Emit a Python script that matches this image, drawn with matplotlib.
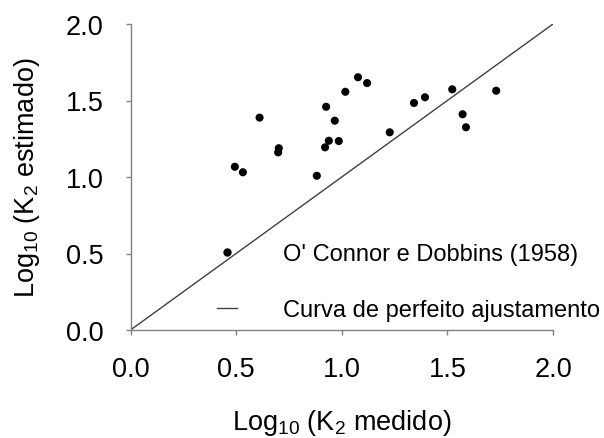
import matplotlib
matplotlib.use("Agg")
import matplotlib.pyplot as plt
from matplotlib.lines import Line2D

plt.rcParams["font.family"] = ["Liberation Sans", "DejaVu Sans"]
plt.rcParams["mathtext.default"] = "regular"

# log10 of measured vs. estimated reaeration coefficient K2
k2_medido = [0.494, 0.532, 0.611, 0.702, 0.699, 0.882, 0.926, 0.967, 0.939, 0.921,
             0.986, 1.017, 1.077, 1.120, 1.227, 1.342, 1.394, 1.523, 1.572, 1.588, 1.731]
k2_estimado = [1.067, 1.031, 1.388, 1.188, 1.161, 1.008, 1.459, 1.368, 1.237, 1.194,
               1.235, 1.557, 1.652, 1.614, 1.292, 1.484, 1.521, 1.573, 1.410, 1.325, 1.564]

ticks = [0.0, 0.5, 1.0, 1.5, 2.0]
tick_labels = ["0.0", "0.5", "1.0", "1.5", "2.0"]
ideal = [0.0, 2.0]

fig = plt.figure(figsize=(6.04, 4.39), dpi=100)
ax = fig.add_axes([130.5 / 604, 1 - 331 / 439, (553 - 130.5) / 604, (331 - 25) / 439])

ax.plot(ideal, ideal, color="#404040", lw=1.0, zorder=2)
ax.scatter(k2_medido, k2_estimado, s=34, color="black", edgecolors="none", zorder=3)

ax.set_xlim(0, 2)
ax.set_ylim(0, 2)
ax.set_xticks(ticks)
ax.set_xticklabels(tick_labels)
ax.set_yticks(ticks)
ax.set_yticklabels(tick_labels)

for side in ("top", "right"):
    ax.spines[side].set_visible(False)
for side in ("left", "bottom"):
    ax.spines[side].set_color("#808080")
    ax.spines[side].set_linewidth(1.0)
    ax.spines[side].set_clip_on(False)

ax.tick_params(axis="both", direction="out", length=3.5, width=1.0, color="#808080",
               labelsize=19.5, labelcolor="black")
ax.tick_params(axis="x", pad=15)
ax.tick_params(axis="y", pad=16)

ax.set_xlabel("Log$_{10}$ (K$_2$ medido)", fontsize=19.5, labelpad=18)
ax.set_ylabel("Log$_{10}$ (K$_2$ estimado)", fontsize=19.5, labelpad=17)

handles = [
    Line2D([], [], marker="o", linestyle="none", color="black", markersize=5),
    Line2D([], [], color="#404040", lw=1.0),
]
labels = ["O' Connor e Dobbins (1958)", "Curva de perfeito ajustamento"]
ax.legend(handles, labels, loc="upper left", bbox_to_anchor=((217 - 130.5) / 422.5, (331 - 244) / 306),
          frameon=False, fontsize=17, borderpad=0, borderaxespad=0, handlelength=0.85,
          handletextpad=1.95, labelspacing=1.44)

fig.savefig("out.png", dpi=100)
